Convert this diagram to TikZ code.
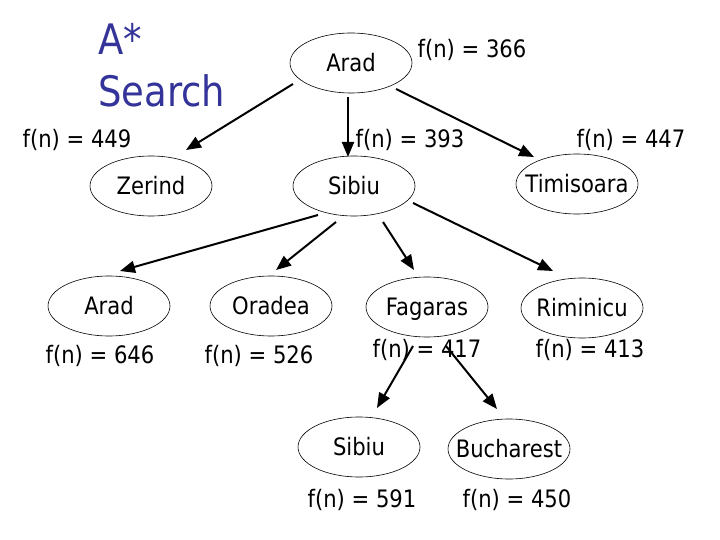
\documentclass[tikz,border=0pt]{standalone}
\usepackage{fontspec}
\setmainfont[FakeStretch=0.88]{DejaVu Sans}
\usetikzlibrary{shapes.geometric,arrows.meta}
\definecolor{titleblue}{RGB}{51,51,153}
\begin{document}
\begin{tikzpicture}[x=1pt,y=-1pt,
  city/.style={ellipse,draw,line width=0.6pt,minimum width=122pt,minimum height=60pt,inner xsep=-20pt,inner ysep=0pt,
    font=\fontsize{24}{28}\selectfont,text height=17pt,text depth=0pt},
  fval/.style={anchor=base,inner sep=0pt,font=\fontsize{24}{28}\selectfont},
  ttl/.style={anchor=base west,inner sep=0pt,text=titleblue,font=\fontsize{42}{48}\selectfont},
  arr/.style={line width=2pt,-{Triangle[length=15pt,width=12pt]}}]
\useasboundingbox (0,0) rectangle (720,540);
% title
\node[ttl] (t1) at (98,55) {A*};
\node[ttl] (t2) at (98,107) {Search};
% cities
\node[city] (arad) at (351,63) {Arad};
\node[city] (zerind) at (151,186) {Zerind};
\node[city] (sibiu) at (354,186) {Sibiu};
\node[city] (timi) at (577,184) {Timisoara};
\node[city] (arad2) at (109,306) {Arad};
\node[city] (oradea) at (271,306) {Oradea};
\node[city] (fagaras) at (427,307) {Fagaras};
\node[city] (rimi) at (582,308) {Riminicu};
\node[city] (sibiu2) at (359,447) {Sibiu};
\node[city] (buch) at (509,449) {Bucharest};
% f values
\node[fval] (f366) at (472,58) {f(n) = 366};
\node[fval] (f449) at (77,148) {f(n) = 449};
\node[fval] (f393) at (410,148) {f(n) = 393};
\node[fval] (f447) at (631,148) {f(n) = 447};
\node[fval] (f646) at (100,363) {f(n) = 646};
\node[fval] (f526) at (259,363) {f(n) = 526};
\node[fval] (f417) at (427,357) {f(n) = 417};
\node[fval] (f413) at (590,357) {f(n) = 413};
\node[fval] (f591) at (362,507) {f(n) = 591};
\node[fval] (f450) at (517,507) {f(n) = 450};
% arrow endpoints
\coordinate (a1s) at (293,84);  \coordinate (a1e) at (186,150);
\coordinate (a2s) at (348,97);  \coordinate (a2e) at (348,157);
\coordinate (a3s) at (396,89);  \coordinate (a3e) at (534,157);
\coordinate (b1s) at (318,215); \coordinate (b1e) at (120,271);
\coordinate (b2s) at (336,222); \coordinate (b2e) at (276,270);
\coordinate (b3s) at (383,222); \coordinate (b3e) at (414,270);
\coordinate (b4s) at (413,203); \coordinate (b4e) at (553,271);
\coordinate (c1s) at (413,346); \coordinate (c1e) at (377,408);
\coordinate (c2s) at (446,346); \coordinate (c2e) at (497,409);
\draw[arr] (a1s) -- (a1e);
\draw[arr] (a2s) -- (a2e);
\draw[arr] (a3s) -- (a3e);
\draw[arr] (b1s) -- (b1e);
\draw[arr] (b2s) -- (b2e);
\draw[arr] (b3s) -- (b3e);
\draw[arr] (b4s) -- (b4e);
\draw[arr] (c1s) -- (c1e);
\draw[arr] (c2s) -- (c2e);
\end{tikzpicture}
\end{document}
